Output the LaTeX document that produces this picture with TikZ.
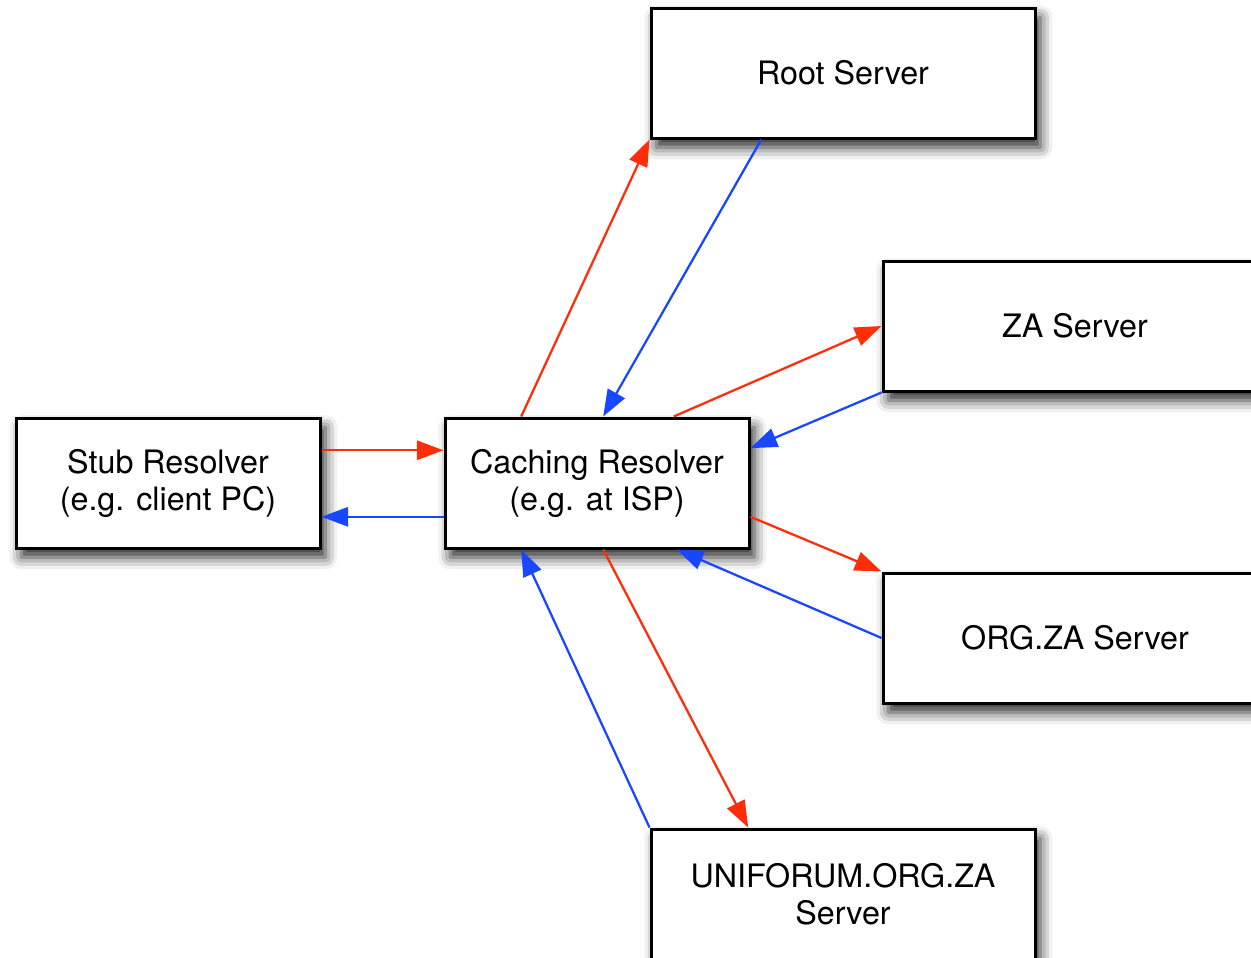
\documentclass[tikz,border=0pt]{standalone}
\usepackage{fontspec}
\setmainfont{TeX Gyre Heros}
\usetikzlibrary{arrows.meta,shadows.blur,calc}
\definecolor{qred}{RGB}{255,45,10}
\definecolor{qblue}{RGB}{25,70,255}
\tikzset{
  server/.style={draw=black, line width=2.25pt, fill=white, align=center,
    inner sep=0pt, minimum height=97.5pt,
    font=\fontsize{24.2}{27.75}\selectfont,
    blur shadow={shadow xshift=4pt, shadow yshift=-7pt,
      shadow blur radius=9pt, shadow opacity=85}},
  wide/.style={minimum width=288pt},
  narrow/.style={minimum width=228pt},
  query/.style={draw=qred, line width=1.7pt,
    -{Triangle[length=20pt,width=14.5pt]}},
  reply/.style={draw=qblue, line width=1.7pt,
    -{Triangle[length=20pt,width=14.5pt]}},
}
\begin{document}
\begin{tikzpicture}[x=0.75pt,y=-0.75pt]
\useasboundingbox (0,0) rectangle (1251,957);
\clip (0,0) rectangle (1251,957);

% servers
\node[server,wide]   (root)  at (843,73)   {Root Server};
\node[server,wide]   (za)    at (1075,326) {ZA Server};
\node[server,narrow] (stub)  at (168,483)  {Stub Resolver\\(e.g. client PC)};
\node[server,narrow] (cache) at (597,483)  {Caching Resolver\\(e.g. at ISP)};
\node[server,wide]   (org)   at (1075,638) {ORG.ZA Server};
\node[server,wide]   (uni)   at (843,894)  {UNIFORUM.ORG.ZA\\Server};

% stub <-> caching resolver
\draw[query] ($(stub.north east)!0.254!(stub.south east)$)
          -- ($(cache.north west)!0.254!(cache.south west)$);
\draw[reply] ($(cache.north west)!0.754!(cache.south west)$)
          -- ($(stub.north east)!0.754!(stub.south east)$);

% caching resolver <-> root
\draw[query] ($(cache.north west)!0.253!(cache.north east)$) -- (root.south west);
\draw[reply] ($(root.south west)!0.289!(root.south east)$)
          -- ($(cache.north west)!0.52!(cache.north east)$);

% caching resolver <-> ZA
\draw[query] ($(cache.north west)!0.75!(cache.north east)$) -- (za.west);
\draw[reply] (za.south west) -- ($(cache.north east)!0.238!(cache.south east)$);

% caching resolver <-> ORG.ZA
\draw[query] ($(cache.north east)!0.754!(cache.south east)$) -- (org.north west);
\draw[reply] (org.west) -- ($(cache.south west)!0.76!(cache.south east)$);

% caching resolver <-> UNIFORUM.ORG.ZA
\draw[query] ($(cache.south west)!0.52!(cache.south east)$)
          -- ($(uni.north west)!0.255!(uni.north east)$);
\draw[reply] (uni.north west) -- ($(cache.south west)!0.253!(cache.south east)$);
\end{tikzpicture}
\end{document}
